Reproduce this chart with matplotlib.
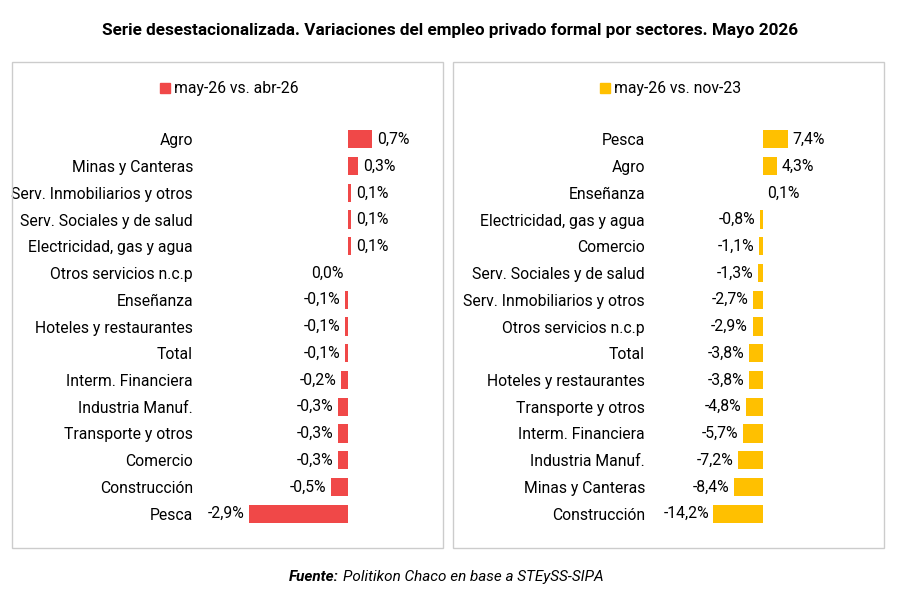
import matplotlib.pyplot as plt
from matplotlib.patches import Rectangle

plt.rcParams['font.family'] = ['Roboto', 'DejaVu Sans']

left_cats = ["Agro", "Minas y Canteras", "Serv. Inmobiliarios y otros", "Serv. Sociales y de salud",
             "Electricidad, gas y agua", "Otros servicios n.c.p", "Enseñanza", "Hoteles y restaurantes",
             "Total", "Interm. Financiera", "Industria Manuf.", "Transporte y otros", "Comercio",
             "Construcción", "Pesca"]
left_vals = [0.7, 0.3, 0.1, 0.1, 0.1, 0.0, -0.1, -0.1, -0.1, -0.2, -0.3, -0.3, -0.3, -0.5, -2.9]

right_cats = ["Pesca", "Agro", "Enseñanza", "Electricidad, gas y agua", "Comercio",
              "Serv. Sociales y de salud", "Serv. Inmobiliarios y otros", "Otros servicios n.c.p",
              "Total", "Hoteles y restaurantes", "Transporte y otros", "Interm. Financiera",
              "Industria Manuf.", "Minas y Canteras", "Construcción"]
right_vals = [7.4, 4.3, 0.1, -0.8, -1.1, -1.3, -2.7, -2.9, -3.8, -3.8, -4.8, -5.7, -7.2, -8.4, -14.2]

W, H = 900, 600
fig = plt.figure(figsize=(9, 6), dpi=100)
fig.patch.set_facecolor("white")


def px(x0, y0, x1, y1):
    return [x0 / W, 1 - y1 / H, (x1 - x0) / W, (y1 - y0) / H]


# panel frames
for x0, x1 in [(12, 443), (453, 884)]:
    fig.patches.append(Rectangle((x0 / W, 1 - 548 / H), (x1 - x0) / W, (548 - 62) / H,
                                 transform=fig.transFigure, fill=False, edgecolor="#cccccc", lw=1))


def panel(rect, cats, vals, xlim, color, legend, lx):
    ax = fig.add_axes(rect)
    y = list(range(len(cats)))
    ax.barh(y, vals, height=0.68, color=color)
    ax.set_xlim(xlim)
    ax.set_ylim(len(cats) - 0.5, -0.5)
    ax.set_yticks(y)
    ax.set_yticklabels(cats, fontsize=11.3)
    ax.tick_params(axis="y", length=0, pad=5)
    ax.set_xticks([])
    for s in ax.spines.values():
        s.set_visible(False)
    span = xlim[1] - xlim[0]
    for yi, v in zip(y, vals):
        lab = f"{v:.1f}%".replace(".", ",")
        if v > 0:
            ax.text(v + span * 0.02, yi, lab, va="center", ha="left", fontsize=11.3)
        else:
            ax.text(v - span * 0.02, yi, lab, va="center", ha="right", fontsize=11.3)
    fig.patches.append(Rectangle((lx / W, 1 - 93 / H), 10 / W, 10 / H,
                                 transform=fig.transFigure, color=color))
    fig.text((lx + 14) / W, 1 - 88 / H, legend, fontsize=11.3, va="center")


panel(px(200, 126, 440, 527), left_cats, left_vals, (-4.35, 2.7), "#F04848", "may-26 vs. abr-26", 160)
panel(px(652, 126, 880, 527), right_cats, right_vals, (-32, 34), "#FFC000", "may-26 vs. nov-23", 600)

fig.text(0.5, 1 - 30 / H, "Serie desestacionalizada. Variaciones del empleo privado formal por sectores. Mayo 2026",
         ha="center", va="center", fontsize=12.3, fontweight="bold")
fig.text(289 / W, 1 - 577 / H, "Fuente:", fontsize=11, fontweight="bold", style="italic", va="center")
fig.text(343 / W, 1 - 577 / H, "Politikon Chaco en base a STEySS-SIPA", fontsize=11, style="italic", va="center")

fig.savefig("out.png", dpi=100)
